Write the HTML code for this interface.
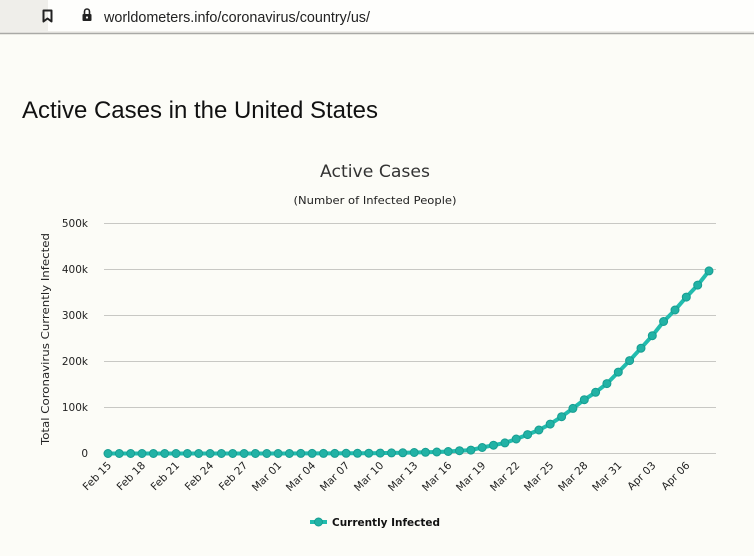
<!DOCTYPE html>
<html><head><meta charset="utf-8">
<style>
html,body{margin:0;padding:0;background:#fcfcf7;}
body{width:754px;height:551px;overflow:hidden;}
</style></head>
<body>
<svg width="754" height="551" viewBox="0 0 754 551" xmlns="http://www.w3.org/2000/svg">
<rect x="0" y="0" width="754" height="551" fill="#fcfcf7"/>
<!-- browser bar -->
<rect x="0" y="0" width="754" height="33" fill="#efeeea"/>
<rect x="48" y="0" width="706" height="31" fill="#fefefc"/>
<line x1="0" y1="33.5" x2="754" y2="33.5" stroke="#a9a9a6" stroke-width="1.5"/>
<!-- bookmark icon -->
<path d="M43.5 10.5 h8 v11 l-4 -3 l-4 3 z" fill="none" stroke="#222" stroke-width="2" stroke-linejoin="round"/>
<!-- lock icon -->
<rect x="82.5" y="14" width="9" height="7" rx="1" fill="#222"/>
<path d="M84.5 14 v-2.5 a2.5 2.5 0 0 1 5 0 v2.5" fill="none" stroke="#222" stroke-width="1.6"/>
<circle cx="87" cy="17.5" r="1.1" fill="#fff"/>
<text x="104" y="22" font-family="Liberation Sans, sans-serif" font-size="14.5" fill="#222" textLength="266" lengthAdjust="spacingAndGlyphs">worldometers.info/coronavirus/country/us/</text>
<!-- page title -->
<text x="22" y="118" font-family="Liberation Sans, sans-serif" font-size="24" fill="#111" textLength="356" lengthAdjust="spacingAndGlyphs">Active Cases in the United States</text>
<!-- chart title -->
<text x="375" y="177" text-anchor="middle" font-family="DejaVu Sans, sans-serif" font-size="17" fill="#333" textLength="110" lengthAdjust="spacingAndGlyphs">Active Cases</text>
<text x="375" y="204" text-anchor="middle" font-family="DejaVu Sans, sans-serif" font-size="10.5" fill="#222" textLength="163" lengthAdjust="spacingAndGlyphs">(Number of Infected People)</text>
<!-- gridlines -->
<g stroke="#c8c8c4" stroke-width="1">
<line x1="104" y1="223.5" x2="716" y2="223.5"/>
<line x1="104" y1="269.5" x2="716" y2="269.5"/>
<line x1="104" y1="315.5" x2="716" y2="315.5"/>
<line x1="104" y1="361.5" x2="716" y2="361.5"/>
<line x1="104" y1="407.5" x2="716" y2="407.5"/>
<line x1="104" y1="453.5" x2="716" y2="453.5"/>
</g>
<!-- y labels -->
<g font-family="DejaVu Sans, sans-serif" font-size="10.5" fill="#222" text-anchor="end">
<text x="88" y="227">500k</text>
<text x="88" y="273">400k</text>
<text x="88" y="319">300k</text>
<text x="88" y="365">200k</text>
<text x="88" y="411">100k</text>
<text x="88" y="457">0</text>
</g>
<text transform="translate(49,339) rotate(-90)" text-anchor="middle" font-family="DejaVu Sans, sans-serif" font-size="10.5" fill="#222" textLength="212" lengthAdjust="spacingAndGlyphs">Total Coronavirus Currently Infected</text>
<g id="xl" font-family="DejaVu Sans, sans-serif" font-size="10.5" fill="#222" text-anchor="end"></g>
<g id="series"></g>
<!-- legend -->
<line x1="310" y1="522" x2="327" y2="522" stroke="#22bcae" stroke-width="4"/>
<circle cx="318.5" cy="522" r="4" fill="#22b2a5" stroke="#169d91" stroke-width="1"/>
<text x="332" y="526" font-family="DejaVu Sans, sans-serif" font-weight="bold" font-size="11" fill="#111" textLength="108" lengthAdjust="spacingAndGlyphs">Currently Infected</text>
</svg>
<script>
(function(){
var ns="http://www.w3.org/2000/svg";
var data=[13,13,13,13,13,13,13,13,13,13,13,50,50,52,60,
66,80,110,140,200,250,380,490,570,900,1200,1600,2100,2700,
3300,4300,6000,7400,13000,18000,23000,31500,41000,51000,64000,80000,98000,117000,133000,152000,177000,
202000,229000,256000,287000,312000,340000,366000,397000];
var x0=108,dx=(709-108)/53,y0=453.5,sc=230/500000;
var pts=[];
for(var i=0;i<data.length;i++){pts.push([x0+i*dx,y0-data[i]*sc]);}
var g=document.getElementById("series");
var pl=document.createElementNS(ns,"polyline");
pl.setAttribute("points",pts.map(function(p){return p[0].toFixed(1)+","+p[1].toFixed(1)}).join(" "));
pl.setAttribute("fill","none");pl.setAttribute("stroke","#22bcae");pl.setAttribute("stroke-width","4");
pl.setAttribute("stroke-linejoin","round");
g.appendChild(pl);
pts.forEach(function(p){
var c=document.createElementNS(ns,"circle");
c.setAttribute("cx",p[0].toFixed(1));c.setAttribute("cy",p[1].toFixed(1));c.setAttribute("r","4");
c.setAttribute("fill","#22b2a5");c.setAttribute("stroke","#169d91");c.setAttribute("stroke-width","1");
g.appendChild(c);
});
var labels=["Feb 15","Feb 18","Feb 21","Feb 24","Feb 27","Mar 01","Mar 04","Mar 07","Mar 10","Mar 13","Mar 16","Mar 19","Mar 22","Mar 25","Mar 28","Mar 31","Apr 03","Apr 06"];
var xl=document.getElementById("xl");
labels.forEach(function(l,k){
var x=x0+k*3*dx+4,y=466;
var t=document.createElementNS(ns,"text");
t.setAttribute("transform","translate("+x.toFixed(1)+","+y+") rotate(-45)");
t.textContent=l;xl.appendChild(t);
});
})();
</script>
</body></html>
